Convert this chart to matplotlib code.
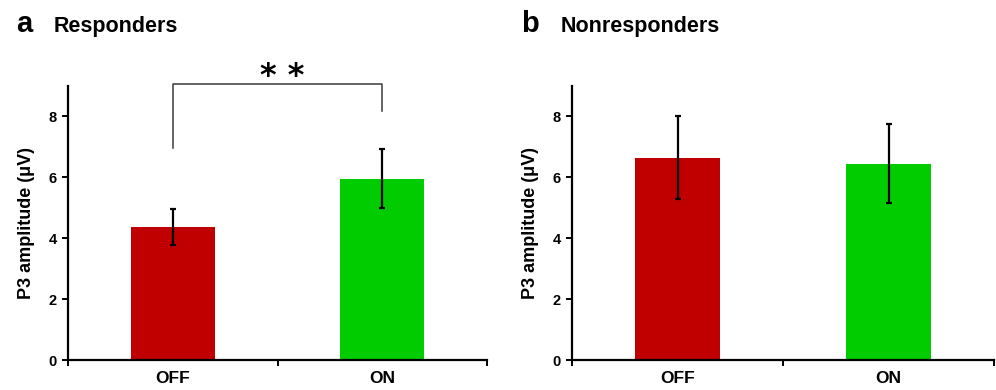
import matplotlib
matplotlib.use("Agg")
import matplotlib.pyplot as plt
import numpy as np

plt.rcParams['font.family'] = ['Liberation Sans', 'DejaVu Sans']
plt.rcParams['font.weight'] = 'bold'

categories = ["OFF", "ON"]
resp_values = [4.37, 5.96]
resp_errors = [0.59, 0.98]
nonresp_values = [6.65, 6.45]
nonresp_errors = [1.36, 1.29]
bar_colors = ["#C00000", "#00CC00"]
yticks = [0, 2, 4, 6, 8]
panel_letters = ["a", "b"]
panel_titles = ["Responders", "Nonresponders"]
ylabel = "P3 amplitude (\u03bcV)"
sig_label = "* *"
bracket_y = [6.96, 9.07, 8.17]  # left leg bottom, top, right leg bottom

fig = plt.figure(figsize=(9.96, 3.9), dpi=100)
ax1 = fig.add_axes([68/996, 1-360/390, 419/996, 274/390])
ax2 = fig.add_axes([572/996, 1-360/390, 422/996, 274/390])

def style(ax, values, errors):
    x = np.arange(len(categories))
    ax.bar(x, values, width=0.4, color=bar_colors, zorder=2)
    ax.errorbar(x, values, yerr=errors, fmt='none', ecolor='black',
                elinewidth=1.6, capsize=2.2, capthick=1.6, zorder=3)
    ax.set_xlim(-0.5, len(categories) - 0.5)
    ax.set_ylim(0, 9)
    ax.set_yticks(yticks)
    ax.set_yticklabels([str(t) for t in yticks], fontsize=10.5, fontweight='bold')
    ax.set_xticks(x)
    ax.set_xticklabels(categories, fontsize=12.5, fontweight='bold')
    ax.set_xticks(np.arange(len(categories) + 1) - 0.5, minor=True)
    ax.tick_params(axis='x', which='major', length=0, pad=8)
    ax.tick_params(axis='x', which='minor', length=4, width=1.4, direction='out')
    ax.tick_params(axis='y', length=4, width=1.4, direction='out', pad=4)
    for s in ['top', 'right']:
        ax.spines[s].set_visible(False)
    for s in ['left', 'bottom']:
        ax.spines[s].set_linewidth(1.6)
        ax.spines[s].set_color('black')
    ax.set_ylabel(ylabel, fontsize=13, fontweight='bold', labelpad=10)

style(ax1, resp_values, resp_errors)
style(ax2, nonresp_values, nonresp_errors)

# significance bracket
ax1.plot([0, 0, 1, 1], [bracket_y[0], bracket_y[1], bracket_y[1], bracket_y[2]],
         color='#3a3a3a', lw=1.1, clip_on=False, zorder=4)
ax1.text(0.52, 9.02, sig_label, ha='center', va='baseline',
         fontsize=23, fontweight='bold', family='DejaVu Sans')

# panel titles
fig.text(16/996, 1-32/390, panel_letters[0], fontsize=21, fontweight='bold', va='baseline')
fig.text(54/996, 1-32/390, panel_titles[0], fontsize=15.5, fontweight='bold', va='baseline')
fig.text(521/996, 1-32/390, panel_letters[1], fontsize=21, fontweight='bold', va='baseline')
fig.text(561/996, 1-32/390, panel_titles[1], fontsize=15.5, fontweight='bold', va='baseline')

fig.savefig("out.png", dpi=100)
